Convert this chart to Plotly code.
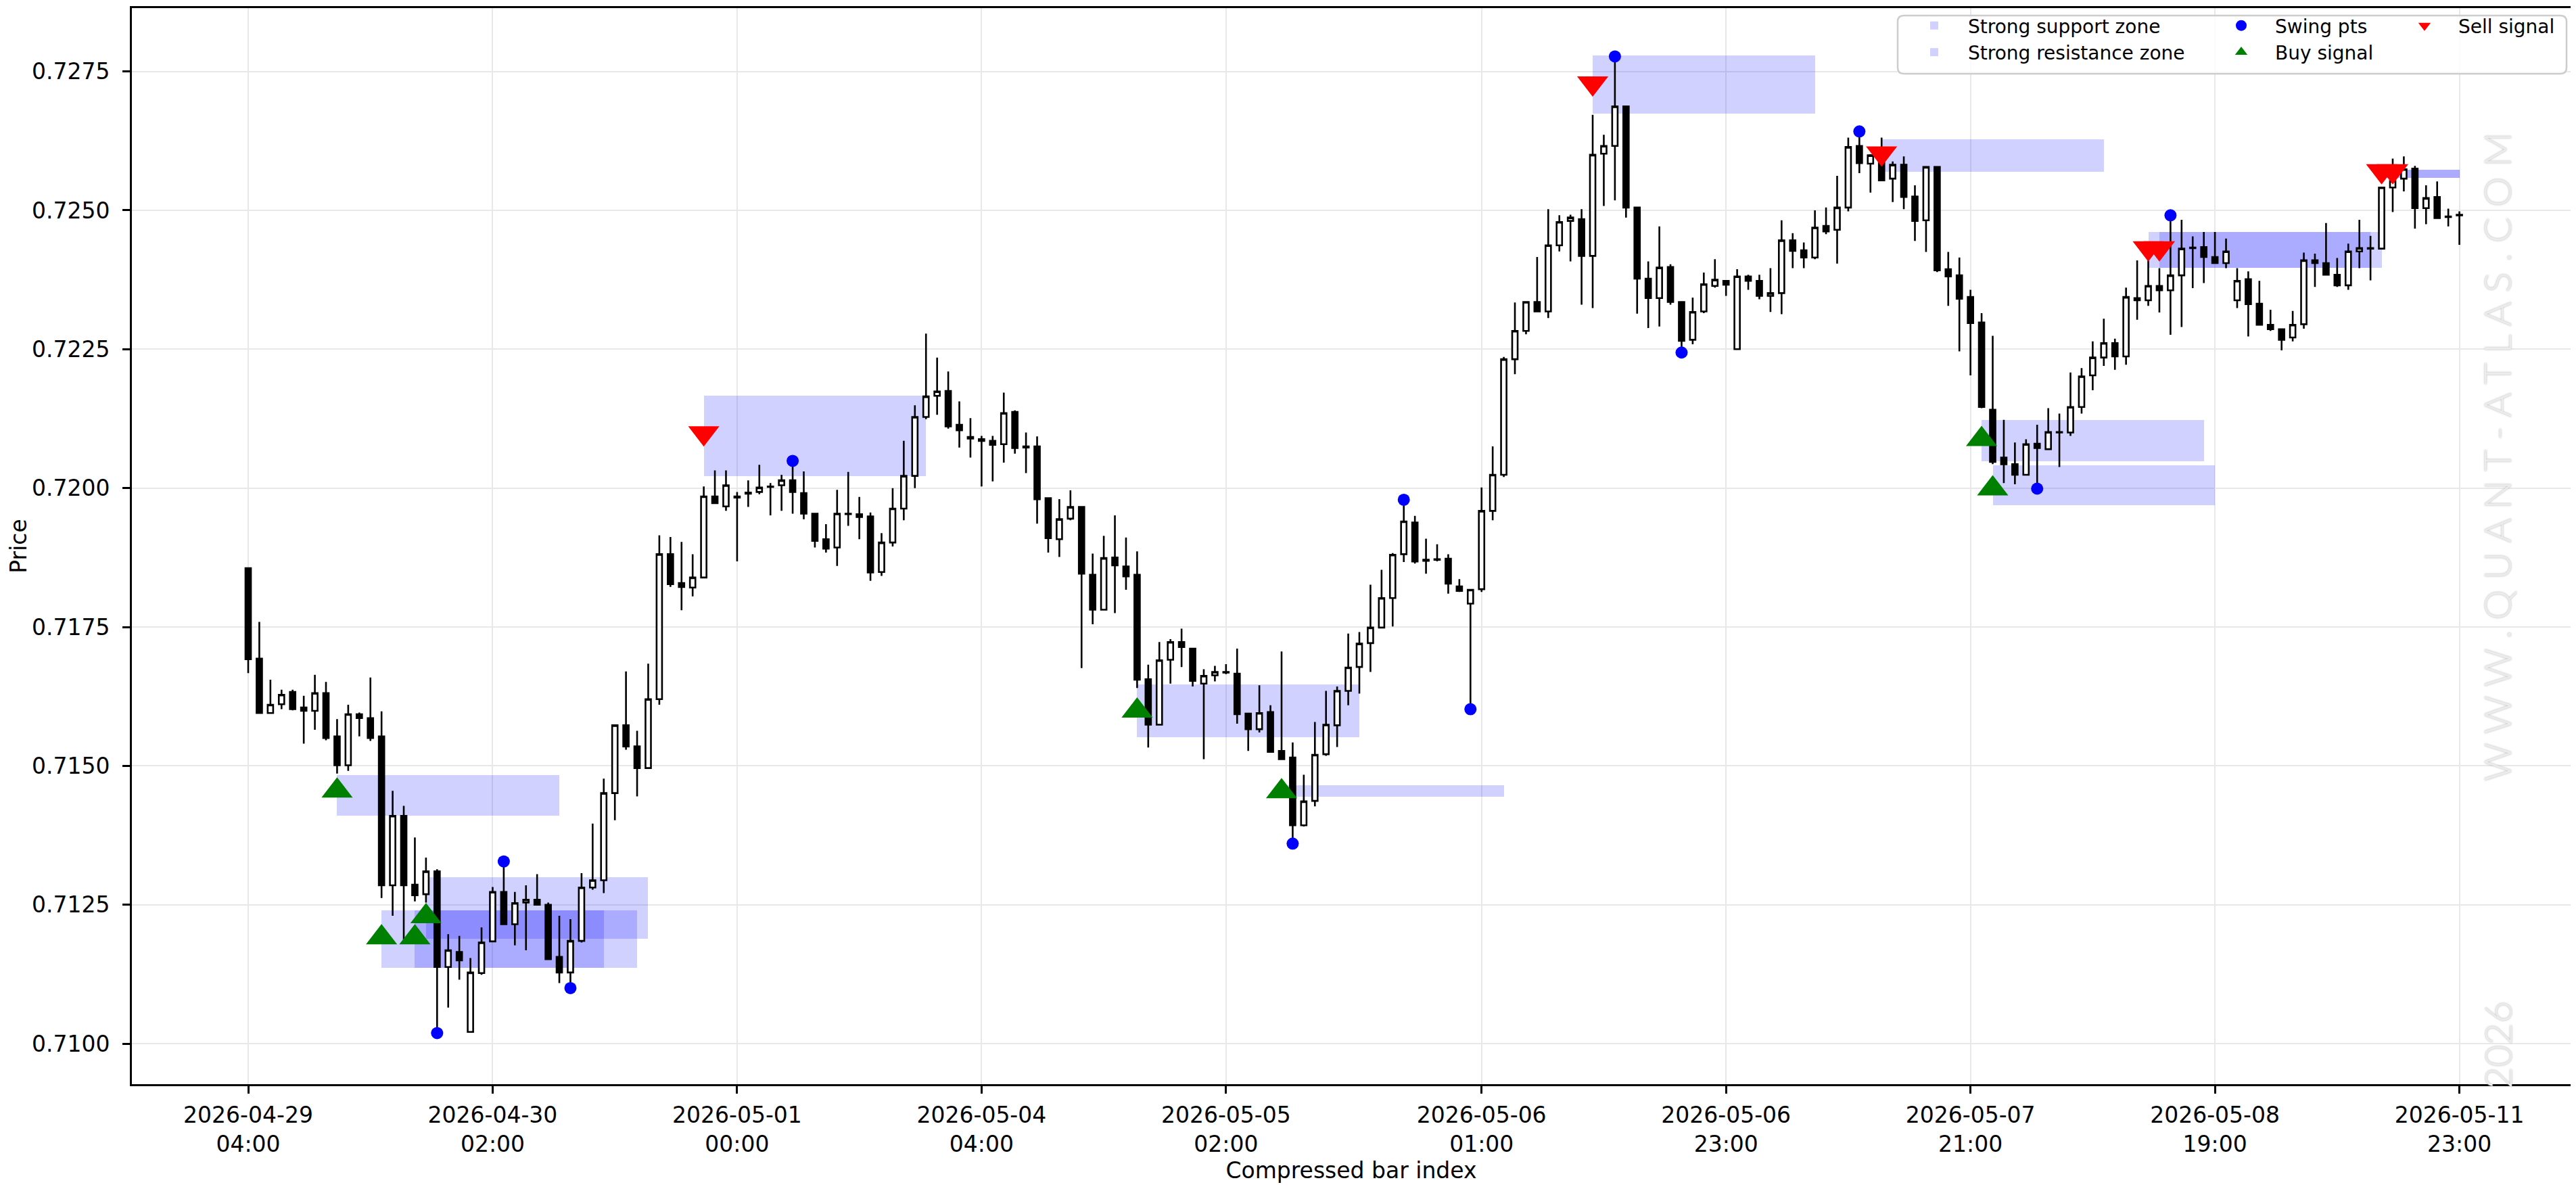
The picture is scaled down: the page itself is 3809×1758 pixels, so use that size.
import plotly.graph_objects as go

# ---------------- data ----------------
bar_open = [0.71856, 0.71693, 0.71595, 0.71611, 0.71633, 0.71605, 0.71599, 0.71631, 0.71553, 0.71501,
            0.71593, 0.71586, 0.71553, 0.71285, 0.71410, 0.71286, 0.71269, 0.71310, 0.71138, 0.71165,
            0.71021, 0.71127, 0.71184, 0.71273, 0.71215, 0.71254, 0.71259, 0.71250, 0.71156, 0.71128,
            0.71185, 0.71281, 0.71294, 0.71451, 0.71573, 0.71535, 0.71496, 0.71620, 0.71881, 0.71829,
            0.71821, 0.71839, 0.71985, 0.71967, 0.71985, 0.71990, 0.71993, 0.72003, 0.72005, 0.72014,
            0.71991, 0.71954, 0.71908, 0.71893, 0.71954, 0.71953, 0.71949, 0.71849, 0.71902, 0.71963,
            0.72022, 0.72128, 0.72166, 0.72175, 0.72114, 0.72092, 0.72088, 0.72085, 0.72079, 0.72137,
            0.72075, 0.72075, 0.71982, 0.71908, 0.71945, 0.71966, 0.71844, 0.71781, 0.71875, 0.71859,
            0.71844, 0.71656, 0.71574, 0.71691, 0.71723, 0.71711, 0.71648, 0.71663, 0.71668, 0.71666,
            0.71594, 0.71566, 0.71597, 0.71527, 0.71515, 0.71393, 0.71437, 0.71521, 0.71573, 0.71635,
            0.71678, 0.71721, 0.71749, 0.71802, 0.71881, 0.71938, 0.71871, 0.71871, 0.71873, 0.71823,
            0.71792, 0.71818, 0.71959, 0.72024, 0.72232, 0.72283, 0.72335, 0.72318, 0.72437, 0.72481,
            0.72484, 0.72418, 0.72602, 0.72616, 0.72687, 0.72505, 0.72377, 0.72342, 0.72398, 0.72335,
            0.72267, 0.72318, 0.72364, 0.72373, 0.72250, 0.72381, 0.72373, 0.72346, 0.72351, 0.72446,
            0.72428, 0.72415, 0.72472, 0.72465, 0.72505, 0.72616, 0.72584, 0.72604, 0.72557, 0.72582,
            0.72525, 0.72482, 0.72578, 0.72394, 0.72383, 0.72344, 0.72298, 0.72141, 0.72055, 0.72043,
            0.72024, 0.72080, 0.72070, 0.72101, 0.72100, 0.72146, 0.72203, 0.72235, 0.72261, 0.72237,
            0.72342, 0.72338, 0.72364, 0.72356, 0.72383, 0.72433, 0.72434, 0.72416, 0.72405, 0.72338,
            0.72376, 0.72332, 0.72294, 0.72286, 0.72271, 0.72295, 0.72410, 0.72405, 0.72384, 0.72365,
            0.72426, 0.72432, 0.72431, 0.72541, 0.72557, 0.72575, 0.72504, 0.72524, 0.72489, 0.72491]
bar_high = [0.71856, 0.71759, 0.71655, 0.71637, 0.71637, 0.71626, 0.71664, 0.71651, 0.71584, 0.71610,
            0.71596, 0.71659, 0.71598, 0.71455, 0.71428, 0.71371, 0.71335, 0.71314, 0.71197, 0.71194,
            0.71154, 0.71209, 0.71282, 0.71328, 0.71273, 0.71285, 0.71305, 0.71254, 0.71230, 0.71224,
            0.71307, 0.71396, 0.71477, 0.71573, 0.71670, 0.71563, 0.71684, 0.71915, 0.71912, 0.71903,
            0.71881, 0.72003, 0.72032, 0.72032, 0.71993, 0.72014, 0.72042, 0.72009, 0.72024, 0.72049,
            0.72030, 0.71954, 0.71935, 0.71997, 0.72029, 0.71984, 0.71956, 0.71919, 0.72000, 0.72085,
            0.72149, 0.72278, 0.72235, 0.72210, 0.72156, 0.72126, 0.72094, 0.72094, 0.72172, 0.72140,
            0.72100, 0.72093, 0.71982, 0.71980, 0.71996, 0.71966, 0.71882, 0.71914, 0.71951, 0.71911,
            0.71886, 0.71682, 0.71723, 0.71728, 0.71747, 0.71711, 0.71674, 0.71680, 0.71683, 0.71711,
            0.71594, 0.71645, 0.71609, 0.71706, 0.71542, 0.71484, 0.71579, 0.71635, 0.71643, 0.71738,
            0.71741, 0.71826, 0.71853, 0.71883, 0.71979, 0.71950, 0.71909, 0.71899, 0.71881, 0.71836,
            0.71817, 0.72001, 0.72075, 0.72236, 0.72334, 0.72335, 0.72416, 0.72502, 0.72491, 0.72492,
            0.72502, 0.72672, 0.72636, 0.72777, 0.72687, 0.72505, 0.72408, 0.72471, 0.72403, 0.72335,
            0.72343, 0.72388, 0.72412, 0.72373, 0.72394, 0.72384, 0.72384, 0.72396, 0.72482, 0.72459,
            0.72442, 0.72500, 0.72505, 0.72562, 0.72631, 0.72642, 0.72601, 0.72631, 0.72588, 0.72597,
            0.72545, 0.72578, 0.72578, 0.72425, 0.72415, 0.72357, 0.72315, 0.72274, 0.72123, 0.72082,
            0.72088, 0.72114, 0.72144, 0.72134, 0.72208, 0.72216, 0.72264, 0.72305, 0.72269, 0.72361,
            0.72410, 0.72428, 0.72396, 0.72491, 0.72483, 0.72453, 0.72461, 0.72461, 0.72449, 0.72396,
            0.72390, 0.72373, 0.72321, 0.72286, 0.72319, 0.72424, 0.72422, 0.72477, 0.72414, 0.72440,
            0.72483, 0.72454, 0.72541, 0.72593, 0.72597, 0.72580, 0.72545, 0.72552, 0.72503, 0.72498]
bar_low = [0.71667, 0.71595, 0.71595, 0.71602, 0.71600, 0.71540, 0.71565, 0.71546, 0.71486, 0.71491,
           0.71553, 0.71545, 0.71262, 0.71230, 0.71187, 0.71256, 0.71254, 0.71019, 0.71065, 0.71115,
           0.71021, 0.71124, 0.71184, 0.71215, 0.71177, 0.71168, 0.71250, 0.71152, 0.71109, 0.71100,
           0.71182, 0.71277, 0.71271, 0.71402, 0.71529, 0.71445, 0.71495, 0.71610, 0.71822, 0.71780,
           0.71805, 0.71839, 0.71972, 0.71959, 0.71868, 0.71966, 0.71989, 0.71951, 0.71959, 0.71954,
           0.71944, 0.71893, 0.71884, 0.71860, 0.71932, 0.71908, 0.71833, 0.71842, 0.71895, 0.71942,
           0.72000, 0.72124, 0.72132, 0.72107, 0.72073, 0.72055, 0.72003, 0.72012, 0.72046, 0.72062,
           0.72027, 0.71936, 0.71884, 0.71876, 0.71942, 0.71676, 0.71755, 0.71781, 0.71775, 0.71817,
           0.71640, 0.71533, 0.71574, 0.71648, 0.71678, 0.71643, 0.71512, 0.71652, 0.71665, 0.71576,
           0.71527, 0.71560, 0.71525, 0.71512, 0.71360, 0.71391, 0.71427, 0.71518, 0.71534, 0.71609,
           0.71630, 0.71669, 0.71749, 0.71751, 0.71867, 0.71864, 0.71846, 0.71868, 0.71810, 0.71813,
           0.71602, 0.71813, 0.71942, 0.72020, 0.72205, 0.72277, 0.72318, 0.72306, 0.72426, 0.72408,
           0.72330, 0.72324, 0.72508, 0.72518, 0.72487, 0.72314, 0.72288, 0.72291, 0.72330, 0.72244,
           0.72259, 0.72315, 0.72361, 0.72346, 0.72250, 0.72357, 0.72340, 0.72317, 0.72313, 0.72396,
           0.72396, 0.72412, 0.72457, 0.72404, 0.72498, 0.72567, 0.72532, 0.72554, 0.72515, 0.72502,
           0.72445, 0.72425, 0.72389, 0.72328, 0.72246, 0.72203, 0.72144, 0.72043, 0.72009, 0.72007,
           0.72023, 0.71999, 0.72069, 0.72038, 0.72094, 0.72134, 0.72176, 0.72220, 0.72213, 0.72222,
           0.72303, 0.72328, 0.72316, 0.72276, 0.72290, 0.72360, 0.72369, 0.72405, 0.72396, 0.72324,
           0.72273, 0.72294, 0.72283, 0.72248, 0.72264, 0.72287, 0.72362, 0.72384, 0.72362, 0.72357,
           0.72396, 0.72374, 0.72430, 0.72497, 0.72534, 0.72467, 0.72475, 0.72486, 0.72471, 0.72438]
bar_close = [0.71692, 0.71595, 0.71610, 0.71628, 0.71602, 0.71599, 0.71631, 0.71550, 0.71501, 0.71593,
             0.71586, 0.71550, 0.71285, 0.71410, 0.71285, 0.71267, 0.71310, 0.71138, 0.71168, 0.71150,
             0.71128, 0.71182, 0.71273, 0.71215, 0.71253, 0.71259, 0.71250, 0.71152, 0.71128, 0.71185,
             0.71281, 0.71294, 0.71451, 0.71573, 0.71535, 0.71496, 0.71620, 0.71881, 0.71827, 0.71822,
             0.71839, 0.71985, 0.71973, 0.72005, 0.71983, 0.71992, 0.72001, 0.72002, 0.72014, 0.71993,
             0.71954, 0.71905, 0.71891, 0.71954, 0.71953, 0.71948, 0.71848, 0.71902, 0.71963, 0.72022,
             0.72128, 0.72165, 0.72174, 0.72111, 0.72104, 0.72089, 0.72085, 0.72078, 0.72135, 0.72072,
             0.72073, 0.71980, 0.71910, 0.71944, 0.71966, 0.71846, 0.71781, 0.71874, 0.71861, 0.71841,
             0.71655, 0.71574, 0.71690, 0.71723, 0.71714, 0.71653, 0.71662, 0.71669, 0.71669, 0.71593,
             0.71566, 0.71595, 0.71525, 0.71512, 0.71393, 0.71436, 0.71520, 0.71574, 0.71635, 0.71677,
             0.71720, 0.71749, 0.71802, 0.71880, 0.71940, 0.71868, 0.71869, 0.71872, 0.71828, 0.71815,
             0.71817, 0.71959, 0.72024, 0.72232, 0.72283, 0.72335, 0.72318, 0.72437, 0.72479, 0.72487,
             0.72418, 0.72600, 0.72616, 0.72687, 0.72505, 0.72377, 0.72342, 0.72397, 0.72335, 0.72265,
             0.72317, 0.72367, 0.72375, 0.72366, 0.72381, 0.72373, 0.72346, 0.72351, 0.72446, 0.72427,
             0.72415, 0.72469, 0.72462, 0.72505, 0.72614, 0.72585, 0.72599, 0.72554, 0.72582, 0.72524,
             0.72481, 0.72578, 0.72392, 0.72381, 0.72341, 0.72297, 0.72146, 0.72047, 0.72043, 0.72024,
             0.72079, 0.72072, 0.72101, 0.72100, 0.72146, 0.72201, 0.72235, 0.72261, 0.72237, 0.72344,
             0.72338, 0.72364, 0.72356, 0.72383, 0.72431, 0.72432, 0.72416, 0.72405, 0.72426, 0.72373,
             0.72331, 0.72294, 0.72286, 0.72267, 0.72294, 0.72410, 0.72405, 0.72384, 0.72365, 0.72426,
             0.72432, 0.72431, 0.72541, 0.72553, 0.72574, 0.72504, 0.72522, 0.72486, 0.72488, 0.72492]
bar_index = list(range(len(bar_open)))

tick_index = [0, 22, 44, 66, 88, 111, 133, 155, 177, 199]
tick_labels = ["2026-04-29<br>04:00", "2026-04-30<br>02:00", "2026-05-01<br>00:00",
               "2026-05-04<br>04:00", "2026-05-05<br>02:00", "2026-05-06<br>01:00",
               "2026-05-06<br>23:00", "2026-05-07<br>21:00", "2026-05-08<br>19:00",
               "2026-05-11<br>23:00"]
price_ticks = [0.7100, 0.7125, 0.7150, 0.7175, 0.7200, 0.7225, 0.7250, 0.7275]

swing_index = [17, 23, 29, 49, 94, 104, 110, 123, 129, 145, 161, 173]
swing_price = [0.71019, 0.71328, 0.71100, 0.72049, 0.71360, 0.71979, 0.71602, 0.72777,
               0.72244, 0.72642, 0.71999, 0.72491]

buy_index = [8, 12, 15, 16, 80, 93, 156, 157]
buy_price = [0.71455, 0.71191, 0.71191, 0.71229, 0.71599, 0.71454, 0.72088, 0.71999]

sell_index = [41, 121, 147, 171, 172, 192, 193]
sell_price = [0.72099, 0.72729, 0.72603, 0.72432, 0.72432, 0.72571, 0.72571]

support_start = [8, 12, 15, 16, 80, 93, 156, 157]
support_end = [28, 32, 35, 36, 100, 113, 176, 177]
support_low = [0.71410, 0.71137, 0.71137, 0.71189, 0.71551, 0.71444, 0.72048, 0.71969]
support_high = [0.71483, 0.71240, 0.71240, 0.71300, 0.71647, 0.71465, 0.72123, 0.72041]

resistance_start = [41, 121, 147, 171, 172, 192, 193]
resistance_end = [61, 141, 167, 191, 192, 199, 199]
resistance_low = [0.72022, 0.72674, 0.72569, 0.72396, 0.72396, 0.72559, 0.72559]
resistance_high = [0.72166, 0.72779, 0.72628, 0.72461, 0.72461, 0.72573, 0.72573]

# ---------------- layout constants ----------------
# the page body adds an 8 px margin, so the figure is laid out 8 px up/left
OFF = 8
W, H = 3809 - 2 * OFF, 1758 - 2 * OFF
ML, MR, MT, MB = 195 - OFF, 0, 12 - OFF, H - (1603 - OFF)
PW, PH = W - ML - MR, H - MT - MB
FONT = "DejaVu Sans"
ZONE_COLOR = "rgba(0,0,255,0.18)"
BAR_PX = 16.43            # pixels per bar index in the reference
BAR0_PX = 367             # reference pixel of bar 0
X_MIN = -(BAR0_PX - 195) / BAR_PX
X_MAX = X_MIN + PW / BAR_PX


def px_x(px):
    return (px - OFF - ML) / PW


def px_y(py):
    return 1 - (py - OFF - MT) / PH


fig = go.Figure()

fig.add_trace(go.Bar(
    x=[(s + e) / 2 for s, e in zip(support_start, support_end)],
    y=[h - l for l, h in zip(support_low, support_high)],
    base=support_low,
    width=[e - s for s, e in zip(support_start, support_end)],
    marker=dict(color=ZONE_COLOR, line=dict(width=0)),
    name="Strong support zone", legend="legend", hoverinfo="skip"))

fig.add_trace(go.Bar(
    x=[(s + e) / 2 for s, e in zip(resistance_start, resistance_end)],
    y=[h - l for l, h in zip(resistance_low, resistance_high)],
    base=resistance_low,
    width=[e - s for s, e in zip(resistance_start, resistance_end)],
    marker=dict(color=ZONE_COLOR, line=dict(width=0)),
    name="Strong resistance zone", legend="legend", hoverinfo="skip"))

fig.add_trace(go.Candlestick(
    x=bar_index, open=bar_open, high=bar_high, low=bar_low, close=bar_close,
    increasing=dict(fillcolor="white", line=dict(color="black", width=2.6)),
    decreasing=dict(fillcolor="black", line=dict(color="black", width=2.6)),
    whiskerwidth=0, showlegend=False, name="Price"))

fig.add_trace(go.Scatter(
    x=swing_index, y=swing_price, mode="markers",
    marker=dict(symbol="circle", size=18, color="blue", line=dict(width=0)),
    name="Swing pts", legend="legend2"))

fig.add_trace(go.Scatter(
    x=buy_index, y=buy_price, mode="markers",
    marker=dict(symbol="triangle-up", size=40, color="green", line=dict(width=0)),
    name="Buy signal", legend="legend2"))

fig.add_trace(go.Scatter(
    x=sell_index, y=sell_price, mode="markers",
    marker=dict(symbol="triangle-down", size=40, color="red", line=dict(width=0)),
    name="Sell signal", legend="legend3"))

axis_common = dict(
    showgrid=True, gridcolor="#e8e8e8", gridwidth=2.4,
    showline=True, linecolor="black", linewidth=2.7,
    ticks="outside", ticklen=11, tickwidth=2.7, tickcolor="black",
    tickfont=dict(family=FONT, size=33, color="black"),
    zeroline=False, automargin=False,
)

legend_common = dict(
    yanchor="top", xanchor="left", orientation="v",
    bgcolor="rgba(0,0,0,0)", borderwidth=0,
    font=dict(family=FONT, size=28, color="black"),
    itemwidth=90, tracegroupgap=0, traceorder="normal",
)

lx0, lx1, ly0, ly1 = px_x(2806), px_x(3795), px_y(23), px_y(109)
rx, ry = 9 / PW, 9 / PH
frame_path = (f"M {lx0 + rx},{ly0} L {lx1 - rx},{ly0} Q {lx1},{ly0} {lx1},{ly0 - ry} "
              f"L {lx1},{ly1 + ry} Q {lx1},{ly1} {lx1 - rx},{ly1} "
              f"L {lx0 + rx},{ly1} Q {lx0},{ly1} {lx0},{ly1 + ry} "
              f"L {lx0},{ly0 - ry} Q {lx0},{ly0} {lx0 + rx},{ly0} Z")

wm_font = dict(family="Lato", size=56, color="#ececec", weight=300,
               shadow="0px 0px 3px #b0b0b0")

fig.update_layout(
    width=W, height=H,
    margin=dict(l=ML, r=MR, t=MT, b=MB, pad=0),
    paper_bgcolor="white", plot_bgcolor="white",
    font=dict(family=FONT, color="black"),
    barmode="overlay", bargap=0,
    xaxis=dict(axis_common, range=[X_MIN, X_MAX], tickmode="array", mirror=True,
               tickvals=tick_index, ticktext=tick_labels,
               rangeslider=dict(visible=False), ticklabelstandoff=4,
               title=dict(text="Compressed bar index", font=dict(family=FONT, size=33), standoff=14)),
    yaxis=dict(axis_common, range=[0.70927, 0.72864], tickmode="array", mirror=False,
               tickvals=price_ticks, tickformat=".4f", ticklabelstandoff=12,
               title=dict(text="Price", font=dict(family=FONT, size=33), standoff=20)),
    legend=dict(legend_common, x=px_x(2810), y=px_y(13)),
    legend2=dict(legend_common, x=px_x(3264), y=px_y(13)),
    legend3=dict(legend_common, x=px_x(3535), y=px_y(13)),
    shapes=[dict(type="path", xref="paper", yref="paper", path=frame_path,
                 fillcolor="rgba(255,255,255,0.8)", line=dict(color="#cccccc", width=2.5),
                 layer="above")],
    annotations=[
        dict(text="W W W . Q U A N T - A T L A S . C O M", xref="paper", yref="paper",
             x=px_x(3692), y=px_y(676), xanchor="center", yanchor="middle",
             textangle=-90, showarrow=False, font=wm_font),
        dict(text="2026", xref="paper", yref="paper",
             x=px_x(3692), y=px_y(1545), xanchor="center", yanchor="middle",
             textangle=-90, showarrow=False, font=wm_font),
    ],
)

fig.write_html("out.html")
